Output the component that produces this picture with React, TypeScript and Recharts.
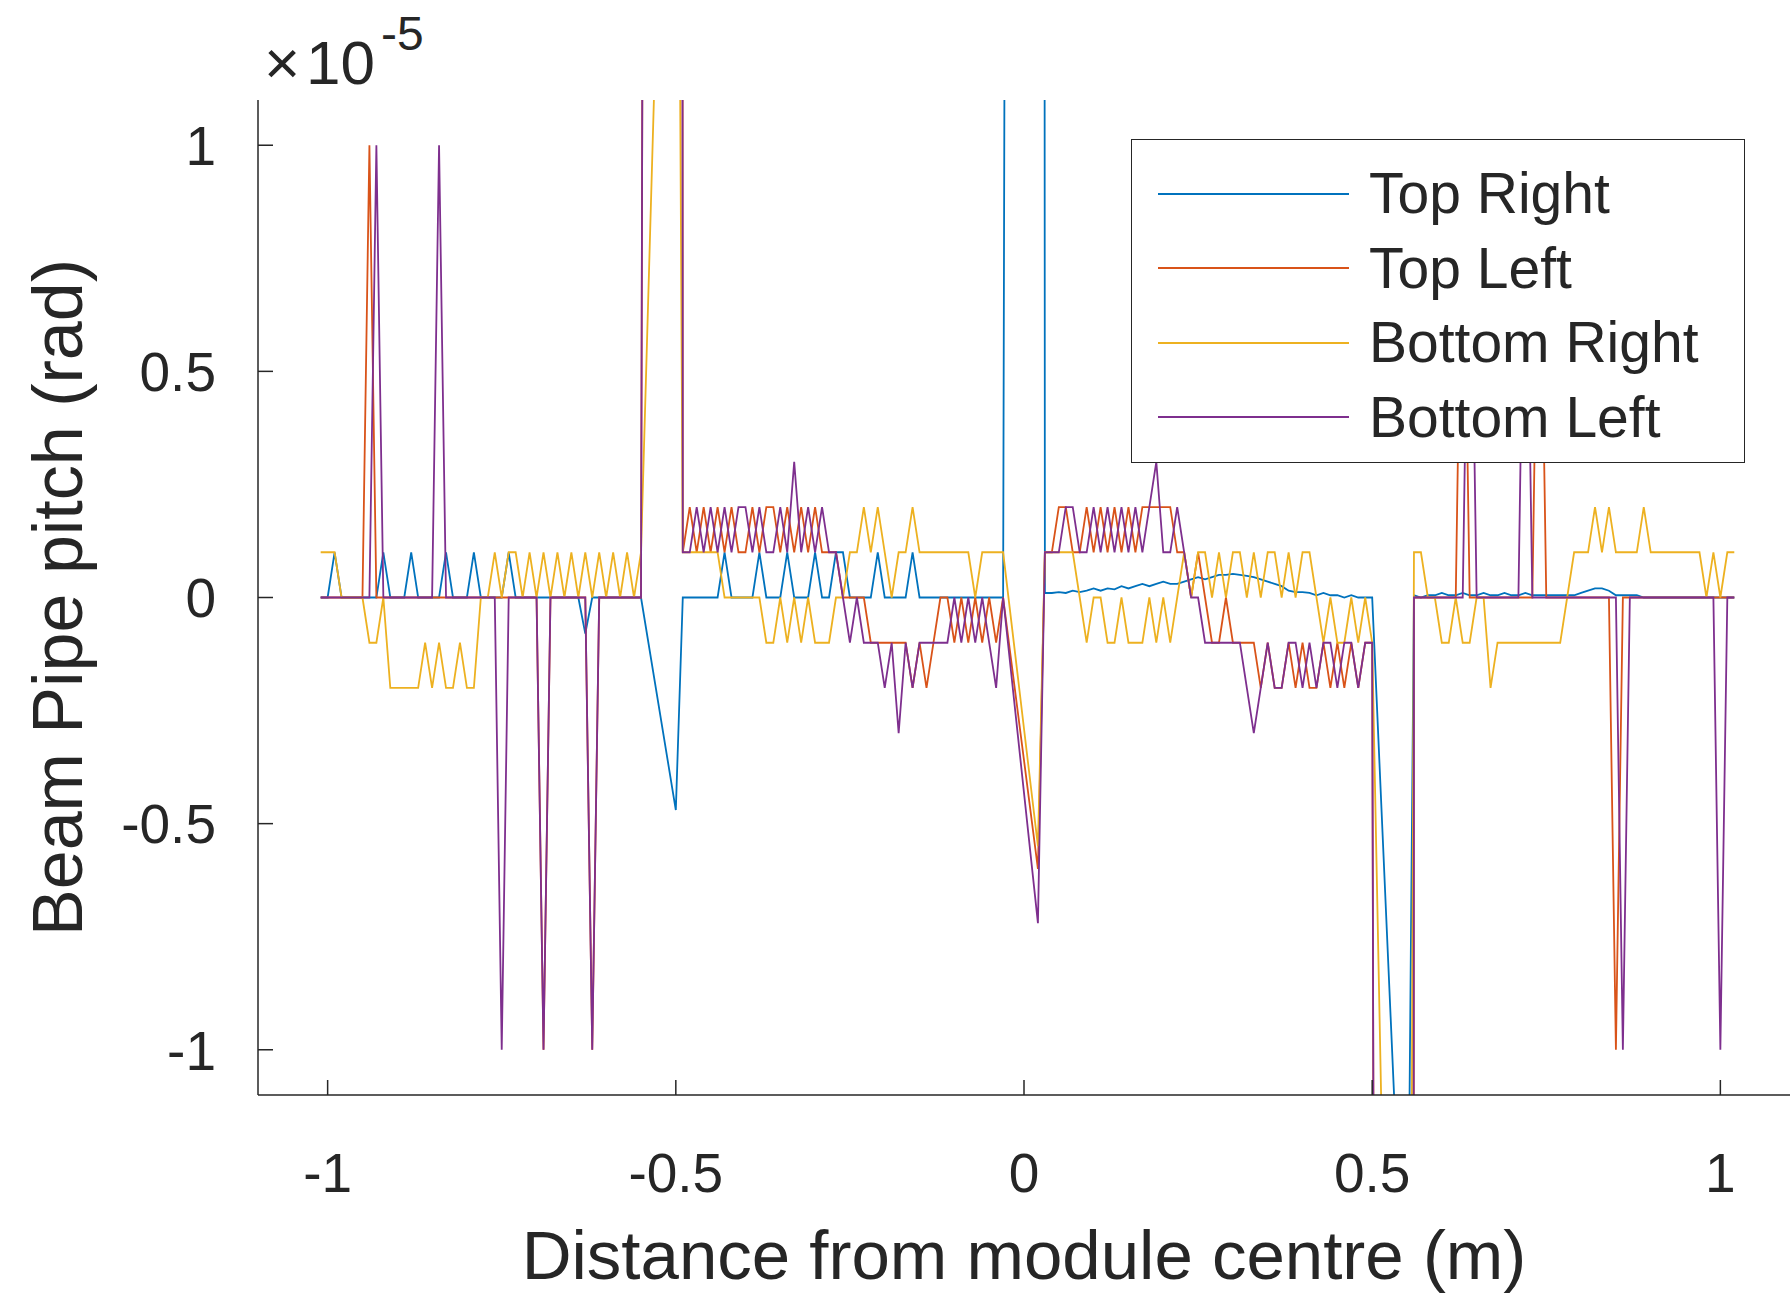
import React from 'react';
import { LineChart, Line, XAxis, YAxis, Legend } from 'recharts';

// beam pipe pitch per corner, in units of 1e-5 rad, sampled along the module
const distance = [
  -1.01, -1.0, -0.99, -0.98, -0.97, -0.96, -0.95, -0.94, -0.93, -0.92,
  -0.91, -0.9, -0.89, -0.88, -0.87, -0.86, -0.85, -0.84, -0.83, -0.82,
  -0.81, -0.8, -0.79, -0.78, -0.77, -0.76, -0.75, -0.74, -0.73, -0.72,
  -0.71, -0.7, -0.69, -0.68, -0.67, -0.66, -0.65, -0.64, -0.63, -0.62,
  -0.61, -0.6, -0.59, -0.58, -0.57, -0.56, -0.55,
  -0.5, -0.49, -0.48, -0.47, -0.46, -0.45, -0.44, -0.43, -0.42, -0.41,
  -0.4, -0.39, -0.38, -0.37, -0.36, -0.35, -0.34, -0.33, -0.32, -0.31,
  -0.3, -0.29, -0.28, -0.27, -0.26, -0.25, -0.24, -0.23, -0.22, -0.21,
  -0.2, -0.19, -0.18, -0.17, -0.16, -0.15, -0.14, -0.13, -0.12, -0.11,
  -0.1, -0.09, -0.08, -0.07, -0.06, -0.05, -0.04, -0.03,
  0.02, 0.03, 0.04, 0.05, 0.06, 0.07, 0.08, 0.09, 0.1, 0.11,
  0.12, 0.13, 0.14, 0.15, 0.16, 0.17, 0.18, 0.19, 0.2, 0.21,
  0.22, 0.23, 0.24, 0.25, 0.26, 0.27, 0.28, 0.29, 0.3, 0.31,
  0.32, 0.33, 0.34, 0.35, 0.36, 0.37, 0.38, 0.39, 0.4, 0.41,
  0.42, 0.43, 0.44, 0.45, 0.46, 0.47, 0.48, 0.49, 0.5,
  0.55, 0.56, 0.57, 0.58, 0.59, 0.6, 0.61, 0.62, 0.63, 0.64,
  0.65, 0.66, 0.67, 0.68, 0.69, 0.7, 0.71, 0.72, 0.73, 0.74,
  0.75, 0.76, 0.77, 0.78, 0.79, 0.8, 0.81, 0.82, 0.83, 0.84,
  0.85, 0.86, 0.87, 0.88, 0.89, 0.9, 0.91, 0.92, 0.93, 0.94,
  0.95, 0.96, 0.97, 0.98, 0.99, 1.0, 1.01, 1.02,
];

const topRight = [
  0, 0, 0.1, 0, 0, 0, 0, 0, 0, 0.1,
  0, 0, 0, 0.1, 0, 0, 0, 0, 0.1, 0,
  0, 0, 0.1, 0, 0, 0, 0, 0.1, 0, 0,
  0, 0, 0, 0, 0, 0, 0, 0, -0.08, 0,
  0, 0, 0, 0, 0, 0, 0,
  -0.47, 0, 0, 0, 0, 0, 0, 0.1, 0, 0,
  0, 0, 0.1, 0, 0, 0, 0.1, 0, 0, 0,
  0.1, 0, 0, 0.1, 0.1, 0, 0, 0, 0, 0.1,
  0, 0, 0, 0, 0.1, 0, 0, 0, 0, 0,
  0, 0, 0, 0, 0, 0, 0, 0,
  30, 0.01, 0.01, 0.012, 0.01, 0.015, 0.012, 0.015, 0.02, 0.015,
  0.02, 0.018, 0.025, 0.02, 0.025, 0.03, 0.025, 0.03, 0.035, 0.03,
  0.03, 0.035, 0.04, 0.045, 0.04, 0.045, 0.05, 0.05, 0.052, 0.05,
  0.048, 0.045, 0.04, 0.035, 0.03, 0.025, 0.015, 0.012, 0.012, 0.01,
  0.005, 0.01, 0.005, 0.005, 0, 0.005, 0, 0, 0,
  -1.75, 0.005, 0, 0.005, 0.005, 0.01, 0.005, 0.005, 0.01, 0.005,
  0.005, 0.01, 0.005, 0.005, 0.01, 0.005, 0.005, 0.01, 0.005, 0.005,
  0.005, 0.005, 0.005, 0.005, 0.005, 0.01, 0.015, 0.02, 0.02, 0.015,
  0.005, 0.005, 0.005, 0.005, 0, 0, 0, 0, 0, 0,
  0, 0, 0, 0, 0, 0, 0, 0,
];

const topLeft = [
  0, 0, 0, 0, 0, 0, 0, 1, 0, 0,
  0, 0, 0, 0, 0, 0, 0, 0, 0, 0,
  0, 0, 0, 0, 0, 0, 0, 0, 0, 0,
  0, 0, -1, 0, 0, 0, 0, 0, 0, -1,
  0, 0, 0, 0, 0, 0, 0,
  30, 0.1, 0.2, 0.1, 0.2, 0.1, 0.2, 0.1, 0.2, 0.1,
  0.1, 0.2, 0.1, 0.2, 0.2, 0.1, 0.2, 0.1, 0.2, 0.1,
  0.2, 0.1, 0.1, 0.1, 0, 0, 0, 0, -0.1, -0.1,
  -0.1, -0.1, -0.1, -0.1, -0.2, -0.1, -0.2, -0.1, 0, 0,
  -0.1, 0, -0.1, 0, -0.1, 0, -0.1, 0,
  -0.6, 0.1, 0.1, 0.2, 0.2, 0.1, 0.1, 0.2, 0.1, 0.2,
  0.1, 0.2, 0.1, 0.2, 0.1, 0.2, 0.2, 0.2, 0.2, 0.2,
  0.1, 0.1, 0, 0.1, 0, -0.1, -0.1, 0, -0.1, -0.1,
  -0.1, -0.1, -0.2, -0.1, -0.2, -0.2, -0.1, -0.2, -0.1, -0.2,
  -0.2, -0.1, -0.2, -0.1, -0.2, -0.1, -0.2, -0.1, -0.1,
  -30, 0, 0, 0, 0, 0, 0, 0, 1, 0,
  0, 0, 0, 0, 0, 0, 0, 0, 0, 1,
  0, 0, 0, 0, 0, 0, 0, 0, 0, 0,
  -1, 0, 0, 0, 0, 0, 0, 0, 0, 0,
  0, 0, 0, 0, 0, 0, 0, 0,
];

const bottomRight = [
  0.1, 0.1, 0.1, 0, 0, 0, 0, -0.1, -0.1, 0,
  -0.2, -0.2, -0.2, -0.2, -0.2, -0.1, -0.2, -0.1, -0.2, -0.2,
  -0.1, -0.2, -0.2, 0, 0, 0.1, 0, 0.1, 0.1, 0,
  0.1, 0, 0.1, 0, 0.1, 0, 0.1, 0, 0.1, 0,
  0.1, 0, 0.1, 0, 0.1, 0, 0.1,
  2.8, 0.1, 0.1, 0.1, 0.1, 0.1, 0.1, 0, 0, 0,
  0, 0, 0, -0.1, -0.1, 0, -0.1, 0, -0.1, 0,
  -0.1, -0.1, -0.1, 0, 0, 0.1, 0.1, 0.2, 0.1, 0.2,
  0.1, 0, 0.1, 0.1, 0.2, 0.1, 0.1, 0.1, 0.1, 0.1,
  0.1, 0.1, 0.1, 0, 0.1, 0.1, 0.1, 0.1,
  -0.55, 0.1, 0.1, 0.1, 0.1, 0.1, 0, -0.1, 0, 0,
  -0.1, -0.1, 0, -0.1, -0.1, -0.1, 0, -0.1, 0, -0.1,
  0, 0.1, 0, 0.1, 0.1, 0, 0.1, 0, 0.1, 0.1,
  0, 0.1, 0, 0.1, 0.1, 0, 0.1, 0, 0.1, 0.1,
  0, -0.1, 0, -0.1, -0.1, 0, -0.1, 0, -0.1,
  -4, 0.1, 0.1, 0, 0, -0.1, -0.1, 0, -0.1, -0.1,
  0, 0, -0.2, -0.1, -0.1, -0.1, -0.1, -0.1, -0.1, -0.1,
  -0.1, -0.1, -0.1, 0, 0.1, 0.1, 0.1, 0.2, 0.1, 0.2,
  0.1, 0.1, 0.1, 0.1, 0.2, 0.1, 0.1, 0.1, 0.1, 0.1,
  0.1, 0.1, 0.1, 0, 0.1, 0, 0.1, 0.1,
];

const bottomLeft = [
  0, 0, 0, 0, 0, 0, 0, 0, 1, 0,
  0, 0, 0, 0, 0, 0, 0, 1, 0, 0,
  0, 0, 0, 0, 0, 0, -1, 0, 0, 0,
  0, 0, -1, 0, 0, 0, 0, 0, 0, -1,
  0, 0, 0, 0, 0, 0, 0,
  30, 0.1, 0.1, 0.2, 0.1, 0.2, 0.1, 0.2, 0.1, 0.2,
  0.2, 0.1, 0.2, 0.1, 0.1, 0.2, 0.1, 0.3, 0.1, 0.2,
  0.1, 0.2, 0.1, 0.1, 0, -0.1, 0, -0.1, -0.1, -0.1,
  -0.2, -0.1, -0.3, -0.1, -0.2, -0.1, -0.1, -0.1, -0.1, -0.1,
  0, -0.1, 0, -0.1, 0, -0.1, -0.2, 0,
  -0.72, 0.1, 0.1, 0.1, 0.2, 0.2, 0.1, 0.1, 0.2, 0.1,
  0.2, 0.1, 0.2, 0.1, 0.2, 0.1, 0.2, 0.3, 0.1, 0.1,
  0.2, 0.1, 0, 0, -0.1, -0.1, -0.1, -0.1, -0.1, -0.1,
  -0.2, -0.3, -0.2, -0.1, -0.2, -0.2, -0.1, -0.1, -0.2, -0.1,
  -0.2, -0.1, -0.1, -0.2, -0.1, -0.1, -0.2, -0.1, -0.1,
  -30, 0, 0, 0, 0, 0, 0, 0, 0, 1,
  0, 0, 0, 0, 0, 0, 0, 1, 0, 0,
  0, 0, 0, 0, 0, 0, 0, 0, 0, 0,
  0, -1, 0, 0, 0, 0, 0, 0, 0, 0,
  0, 0, 0, 0, 0, -1, 0, 0,
];

const xTicks = [-1, -0.5, 0, 0.5, 1];
const yTicks = [-1, -0.5, 0, 0.5, 1];

const series = [
  { key: 'topRight', name: 'Top Right', color: '#0072BD', values: topRight },
  { key: 'topLeft', name: 'Top Left', color: '#D95319', values: topLeft },
  { key: 'bottomRight', name: 'Bottom Right', color: '#EDB120', values: bottomRight },
  { key: 'bottomLeft', name: 'Bottom Left', color: '#7E2F8E', values: bottomLeft },
];

const data = distance.map((x, i) => {
  const row: Record<string, number> = { x };
  series.forEach(s => { row[s.key] = s.values[i]; });
  return row;
});

const W = 1792;
const H = 1299;
const PLOT_LEFT = 258;
const PLOT_TOP = 100;
const PLOT_BOTTOM = 1095;
const INK = '#262626';
const FONT = '"Liberation Sans", Arial, Helvetica, sans-serif';

const XTick = (props: any) => {
  const { x, payload } = props;
  return (
    <g>
      <line x1={x} x2={x} y1={PLOT_BOTTOM} y2={PLOT_BOTTOM - 15} stroke={INK} strokeWidth={1.5} />
      <text x={x} y={PLOT_BOTTOM + 97} textAnchor="middle" fontSize={55} fill={INK}>{String(payload.value)}</text>
    </g>
  );
};

const YTick = (props: any) => {
  const { y, payload } = props;
  return (
    <g>
      <line x1={PLOT_LEFT} x2={PLOT_LEFT + 15} y1={y} y2={y} stroke={INK} strokeWidth={1.5} />
      <text x={PLOT_LEFT - 42} y={y} dy="0.36em" textAnchor="end" fontSize={55} fill={INK}>{String(payload.value)}</text>
    </g>
  );
};

// legend drawn in plotting order (Recharts would list it reversed)
const renderLegend = () => (
  <div style={{ boxSizing: 'border-box', width: 614, height: 324, border: `1.5px solid ${INK}`, background: '#fff', paddingTop: 16.5 }}>
    {series.map(s => (
      <div key={s.key} style={{ display: 'flex', alignItems: 'center', height: 74.5 }}>
        <div style={{ width: 191, height: 0, borderTop: `2px solid ${s.color}`, marginLeft: 26 }} />
        <span style={{ marginLeft: 20, fontSize: 57, lineHeight: 1, color: INK, whiteSpace: 'nowrap' }}>{s.name}</span>
      </div>
    ))}
  </div>
);

export default function App() {
  return (
    <div style={{ position: 'absolute', left: 0, top: 0, width: W, height: H, background: '#fff', fontFamily: FONT }}>
      <LineChart width={W} height={H} data={data} margin={{ top: PLOT_TOP, right: 2, bottom: 0, left: 0 }}>
        <XAxis
          dataKey="x"
          type="number"
          domain={[-1.1, 1.1]}
          ticks={xTicks}
          interval={0}
          allowDataOverflow
          height={H - PLOT_BOTTOM}
          tickLine={false}
          tickSize={0}
          tickMargin={0}
          tick={(p: any) => <XTick {...p} />}
          axisLine={{ stroke: INK, strokeWidth: 1.5 }}
          label={{ value: 'Distance from module centre (m)', position: 'insideBottom', offset: 20, fontSize: 69, fill: INK }}
        />
        <YAxis
          type="number"
          domain={[-1.1, 1.1]}
          ticks={yTicks}
          interval={0}
          allowDataOverflow
          width={PLOT_LEFT}
          tickLine={false}
          tickSize={0}
          tickMargin={0}
          tick={(p: any) => <YTick {...p} />}
          axisLine={{ stroke: INK, strokeWidth: 1.5 }}
          label={{ value: 'Beam Pipe pitch (rad)', angle: -90, position: 'insideLeft', offset: 57, fontSize: 70, fill: INK, style: { textAnchor: 'middle' } }}
        />
        {series.map(s => (
          <Line
            key={s.key}
            type="linear"
            dataKey={s.key}
            name={s.name}
            stroke={s.color}
            strokeWidth={1.8}
            dot={false}
            activeDot={false}
            isAnimationActive={false}
          />
        ))}
        <Legend
          layout="horizontal"
          verticalAlign="middle"
          align="center"
          content={renderLegend}
          wrapperStyle={{ position: 'absolute', left: 1131, top: 139, width: 614, height: 324 }}
        />
      </LineChart>
      <svg width={W} height={120} style={{ position: 'absolute', left: 0, top: 0, pointerEvents: 'none' }}>
        <text x={264} y={84} fontSize={62} fill={INK}>×</text>
        <text x={306} y={84} fontSize={62} fill={INK}>10</text>
        <text x={381} y={50} fontSize={48} fill={INK}>-5</text>
      </svg>
    </div>
  );
}
